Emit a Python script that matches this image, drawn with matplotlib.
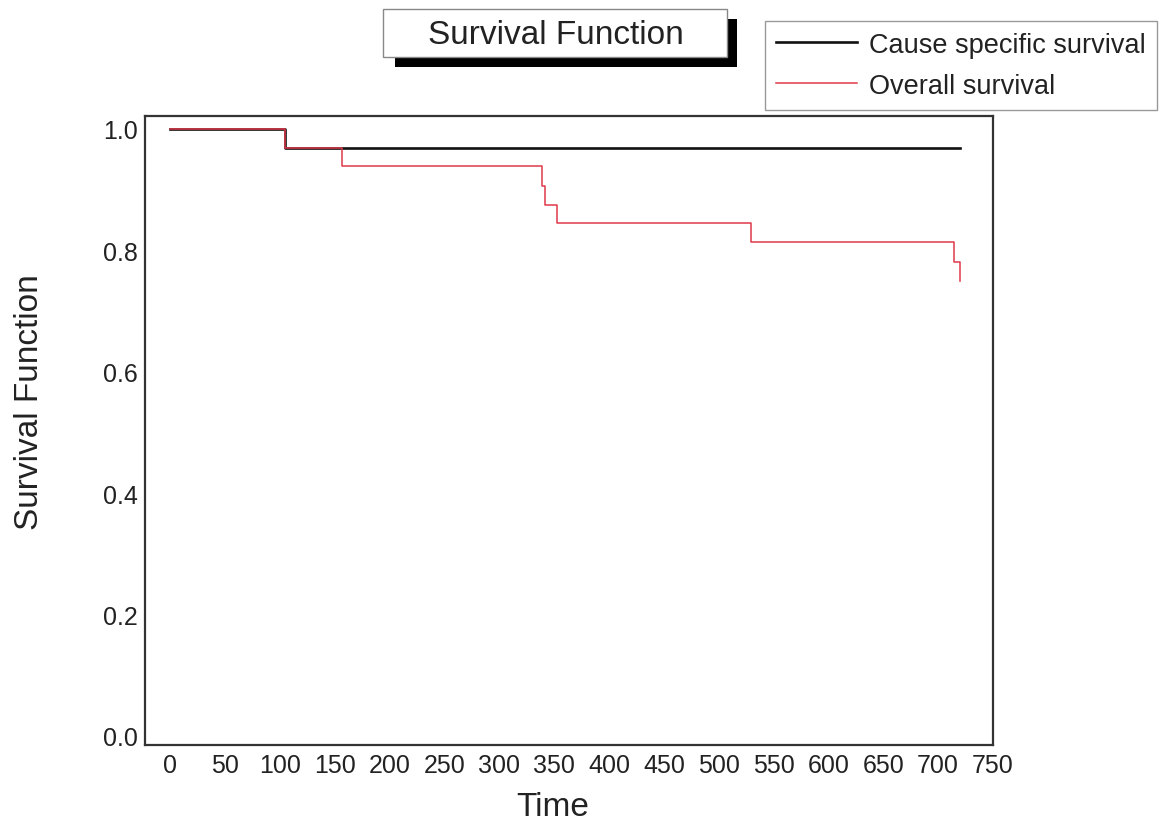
import matplotlib
matplotlib.use("Agg")
import matplotlib.pyplot as plt
from matplotlib.patches import Rectangle

FONT = ['Liberation Sans', 'DejaVu Sans']
plt.rcParams['font.family'] = FONT

# Data
css_time = [0, 105, 720]
css_surv = [1.0, 0.969, 0.969]
os_time = [0, 105, 157, 339, 342, 353, 529, 714, 720]
os_surv = [1.0, 0.969, 0.938, 0.906, 0.875, 0.844, 0.813, 0.781, 0.75]
x_ticks = [0, 50, 100, 150, 200, 250, 300, 350, 400, 450, 500, 550, 600, 650, 700, 750]
y_ticks = [0.0, 0.2, 0.4, 0.6, 0.8, 1.0]
series_names = ['Cause specific survival', 'Overall survival']

W, H = 1169, 828
fig = plt.figure(figsize=(W / 100, H / 100), dpi=100)
ax = fig.add_axes([145 / W, 1 - 746 / H, (993 - 145) / W, (746 - 117) / H])

ax.step(css_time, css_surv, where='post', color='#111111', lw=1.9, label=series_names[0], zorder=2)
ax.step(os_time, os_surv, where='post', color='#e0384a', lw=1.1, label=series_names[1], zorder=3)

ax.set_xlim(-23, 748)
ax.set_ylim(-0.015, 1.021)
ax.set_xticks(x_ticks)
ax.set_yticks(y_ticks)
ax.set_xticklabels([str(t) for t in x_ticks])
ax.set_yticklabels([f"{t:.1f}" for t in y_ticks])
ax.tick_params(length=0, labelsize=18, colors='#222222', pad=6)
ax.tick_params(axis='y', pad=5)
for lab in ax.get_xticklabels():
    lab.set_clip_on(False)
for s in ax.spines.values():
    s.set_color('#333333')
    s.set_linewidth(1.6)

fig.text(30 / W, 1 - 402 / H, 'Survival Function', rotation=90, ha='center', va='center',
         fontsize=24, color='#222222')
fig.text(553 / W, 1 - 808 / H, 'Time', ha='center', va='center', fontsize=24, color='#222222')

# Title box with shadow
fig.add_artist(Rectangle((395 / W, 1 - 68 / H), (737 - 395) / W, (68 - 20) / H,
                         transform=fig.transFigure, facecolor='black', edgecolor='none', zorder=5))
fig.add_artist(Rectangle((383 / W, 1 - 58 / H), (727 - 383) / W, (58 - 10) / H,
                         transform=fig.transFigure, facecolor='white', edgecolor='#888888', lw=1, zorder=6))
fig.text(556 / W, 1 - 35 / H, 'Survival Function', ha='center', va='center', fontsize=24,
         color='#222222', zorder=7)

leg = ax.legend(loc='upper left', bbox_to_anchor=(765 / W, 1 - 22 / H), bbox_transform=fig.transFigure,
                borderaxespad=0, fancybox=False, framealpha=1, edgecolor='#999999', fontsize=19.5,
                handlelength=3.0, handletextpad=0.45, borderpad=0.4, labelspacing=0.55)
leg.get_frame().set_linewidth(1)
for txt in leg.get_texts():
    txt.set_color('#222222')

fig.savefig('out.png', dpi=100)
